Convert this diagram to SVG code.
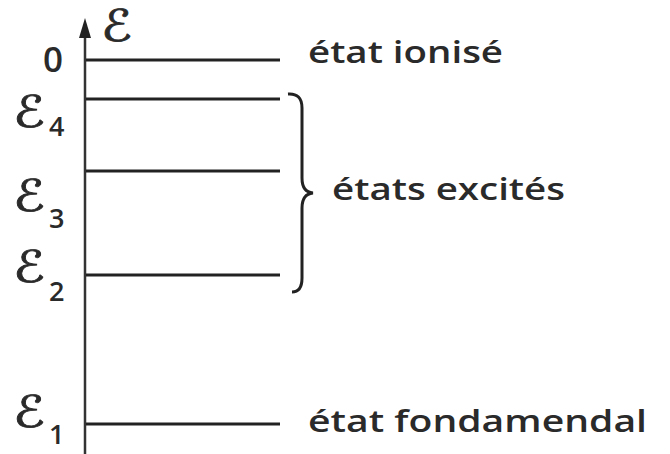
<svg xmlns="http://www.w3.org/2000/svg" width="670" height="454" viewBox="0 0 670 454">
<style>
.lvl{stroke:#222;stroke-width:3;fill:none}
.ax{stroke:#333;stroke-width:2.5;fill:none}
.lbl{font-family:"Open Sans","Noto Sans",sans-serif;font-size:31px;font-weight:600;fill:#2a2a2a}
.sym{font-family:"DejaVu Sans",serif;font-size:44px;fill:#2a2a2a;stroke:#2a2a2a;stroke-width:0.8}
.sub{font-family:"Open Sans","Noto Sans",sans-serif;font-size:27px;font-weight:600;fill:#2a2a2a}
.zero{font-family:"Open Sans","Noto Sans",sans-serif;font-size:35px;font-weight:600;fill:#2a2a2a}
</style>
<g id="axis">
<line class="ax" x1="85" y1="34" x2="85" y2="454"/>
<polygon points="85,18 79,38 91,38" fill="#222"/>
<text class="sym" x="101" y="41" font-size="42" stroke-width="2.4" textLength="31" lengthAdjust="spacingAndGlyphs">ℰ</text>
</g>
<g id="connectors">
<path class="lvl" stroke-width="2.5" d="M288,94 Q302,93 302,108 L302,178 Q302,192 313,193 Q302,194 302,208 L302,278 Q302,292 292,292"/>
</g>
<g id="level0">
<line class="lvl" x1="86" y1="60" x2="280" y2="60"/>
<text class="zero" x="43" y="72">0</text>
<text class="lbl" x="308" y="63" textLength="195" lengthAdjust="spacingAndGlyphs">état ionisé</text>
</g>
<g id="level4">
<line class="lvl" stroke-width="2.5" x1="86" y1="99" x2="280" y2="99"/>
<text class="sym" x="13" y="127" textLength="32" lengthAdjust="spacingAndGlyphs">ℰ</text>
<text class="sub" x="49" y="136">4</text>
</g>
<g id="level3">
<line class="lvl" stroke-width="2.5" x1="86" y1="171" x2="280" y2="171"/>
<text class="sym" x="13" y="211" textLength="32" lengthAdjust="spacingAndGlyphs">ℰ</text>
<text class="sub" x="49" y="228">3</text>
</g>
<g id="level2">
<line class="lvl" stroke-width="2.5" x1="86" y1="275" x2="280" y2="275"/>
<text class="sym" x="13" y="282" textLength="32" lengthAdjust="spacingAndGlyphs">ℰ</text>
<text class="sub" x="49" y="301">2</text>
</g>
<g id="level1">
<line class="lvl" x1="86" y1="424" x2="280" y2="424"/>
<text class="sym" x="13" y="427" textLength="32" lengthAdjust="spacingAndGlyphs">ℰ</text>
<text class="sub" x="49" y="444">1</text>
<text class="lbl" x="308" y="432" textLength="339" lengthAdjust="spacingAndGlyphs">état fondamendal</text>
</g>
<g id="excited">
<text class="lbl" x="332" y="200" textLength="233" lengthAdjust="spacingAndGlyphs">états excités</text>
</g>
</svg>
